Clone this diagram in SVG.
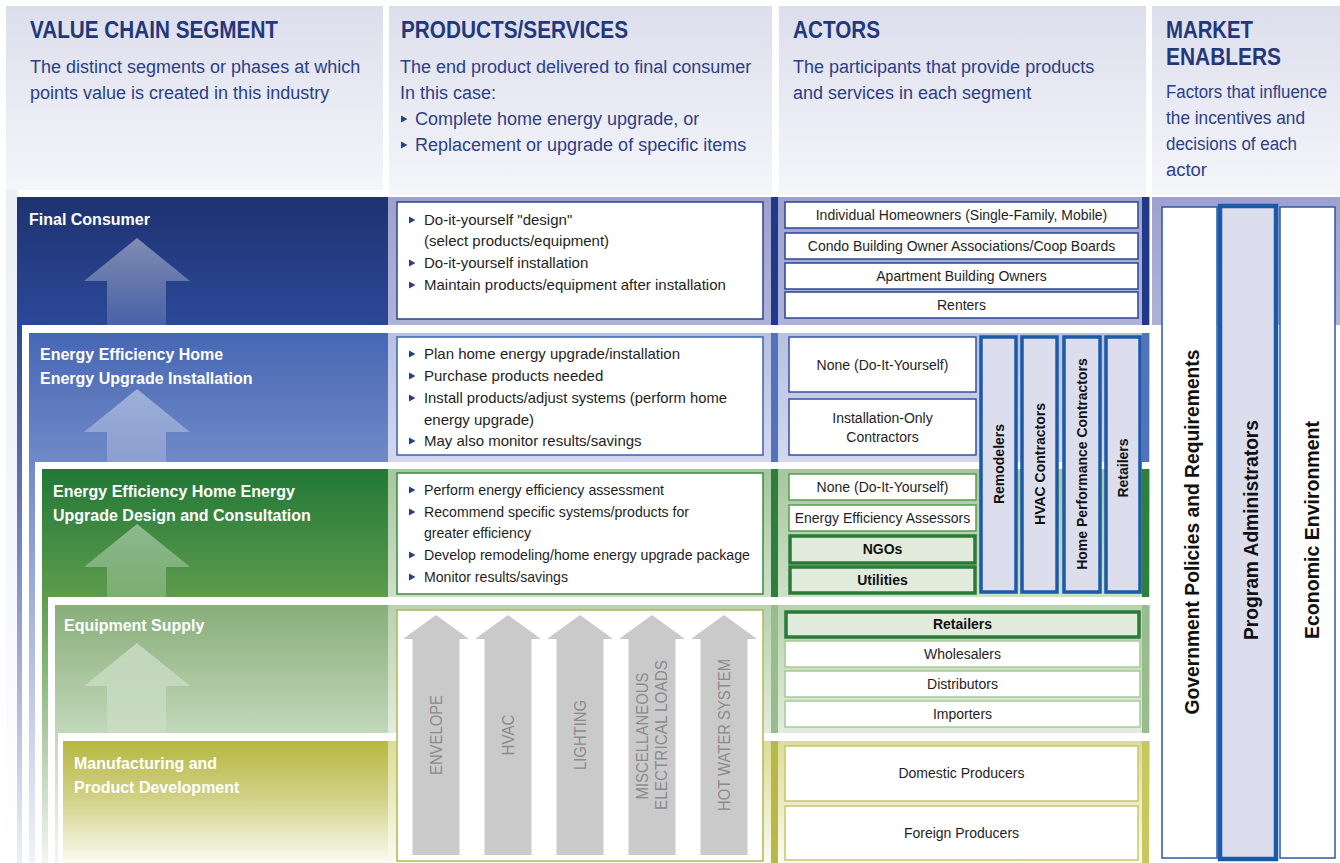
<svg xmlns="http://www.w3.org/2000/svg" width="1340" height="863" viewBox="0 0 1340 863">
<defs>
  <linearGradient id="hdr" x1="0" y1="0" x2="0" y2="1"><stop offset="0" stop-color="#dcdeec"/><stop offset="1" stop-color="#f5f6fa"/></linearGradient>
  <linearGradient id="edge" x1="0" y1="0" x2="0" y2="1"><stop offset="0" stop-color="#eceef6"/><stop offset="1" stop-color="#ffffff"/></linearGradient>
  <linearGradient id="L1" gradientUnits="userSpaceOnUse" x1="0" y1="197" x2="0" y2="863"><stop offset="0" stop-color="#1e3270"/><stop offset="0.19" stop-color="#2b4898"/><stop offset="0.45" stop-color="#6474bc"/><stop offset="1" stop-color="#eef0f8"/></linearGradient>
  <linearGradient id="L2" gradientUnits="userSpaceOnUse" x1="0" y1="333" x2="0" y2="863"><stop offset="0" stop-color="#4667b4"/><stop offset="0.24" stop-color="#7089c6"/><stop offset="0.55" stop-color="#aab6de"/><stop offset="1" stop-color="#f2f3fa"/></linearGradient>
  <linearGradient id="L3" gradientUnits="userSpaceOnUse" x1="0" y1="469" x2="0" y2="863"><stop offset="0" stop-color="#217836"/><stop offset="0.33" stop-color="#5f9c4e"/><stop offset="0.65" stop-color="#a8c8a0"/><stop offset="1" stop-color="#f2f6f0"/></linearGradient>
  <linearGradient id="L4" gradientUnits="userSpaceOnUse" x1="0" y1="605" x2="0" y2="863"><stop offset="0" stop-color="#88ae7a"/><stop offset="0.5" stop-color="#c2d8ba"/><stop offset="1" stop-color="#f2f6f0"/></linearGradient>
  <linearGradient id="L5" gradientUnits="userSpaceOnUse" x1="0" y1="741" x2="0" y2="863"><stop offset="0" stop-color="#b6b840"/><stop offset="0.45" stop-color="#d0d084"/><stop offset="1" stop-color="#fbfbf2"/></linearGradient>
  <linearGradient id="B1" x1="0" y1="0" x2="0" y2="1"><stop offset="0" stop-color="#9ea1cd"/><stop offset="1" stop-color="#b0b3d8"/></linearGradient>
  <linearGradient id="B2" x1="0" y1="0" x2="0" y2="1"><stop offset="0" stop-color="#b8c0e2"/><stop offset="1" stop-color="#d4d8ee"/></linearGradient>
  <linearGradient id="B3" x1="0" y1="0" x2="0" y2="1"><stop offset="0" stop-color="#a6c69e"/><stop offset="1" stop-color="#cfe0c8"/></linearGradient>
  <linearGradient id="B4" x1="0" y1="0" x2="0" y2="1"><stop offset="0" stop-color="#b8d2ae"/><stop offset="1" stop-color="#e2ecde"/></linearGradient>
  <linearGradient id="B5" x1="0" y1="0" x2="0" y2="1"><stop offset="0" stop-color="#dcdc98"/><stop offset="1" stop-color="#fbfbf2"/></linearGradient>
  <linearGradient id="arw" x1="0" y1="0" x2="0" y2="1"><stop offset="0" stop-color="#ffffff" stop-opacity="0.42"/><stop offset="1" stop-color="#ffffff" stop-opacity="0.12"/></linearGradient>
  <path id="bigArrow" d="M0,0 L53,43 L29,43 L29,95 L-30,95 L-30,43 L-53,43 Z"/>
  <path id="sysArrow" d="M0,0 L33,24 L23.5,24 L23.5,240 L-23.5,240 L-23.5,24 L-33,24 Z"/>
  <path id="bul" d="M0,-3.5 L6.5,0 L0,3.5 Z"/>
</defs>
<style>
  text { font-family: "Liberation Sans", Arial, sans-serif; }
  .hT { font-size: 24px; font-weight: bold; fill: #23387a; }
  .hS { font-size: 18px; fill: #2c3f86; }
  .rowL { font-size: 16px; font-weight: bold; fill: #ffffff; }
  .li { font-size: 15px; fill: #1e1e1e; }
  .act { font-size: 14px; fill: #1e1e1e; text-anchor: middle; }
  .actB { font-size: 14px; font-weight: bold; fill: #111; text-anchor: middle; }
  .vl { font-size: 14px; font-weight: bold; fill: #111; text-anchor: middle; }
  .mk { font-size: 21px; font-weight: bold; fill: #111; text-anchor: middle; }
  .sys { font-size: 17px; fill: #8a8a8a; text-anchor: middle; }
  .pb1 { fill: #fff; stroke: #2a4590; stroke-width: 1.5; }
  .pb2 { fill: #fff; stroke: #3a62b0; stroke-width: 1.5; }
  .pb3 { fill: #fff; stroke: #3a8a3e; stroke-width: 1.5; }
  .pb4 { fill: #fff; stroke: #b0b850; stroke-width: 1.5; }
  .ab1 { fill: #fff; stroke: #2a4590; stroke-width: 1.5; }
  .ab2 { fill: #fff; stroke: #34509c; stroke-width: 1.5; }
  .ab3 { fill: #fff; stroke: #5a9a50; stroke-width: 1.5; }
  .ab3t { fill: #e2ecdc; stroke: #2a7a38; stroke-width: 3.5; }
  .ab4 { fill: #fff; stroke: #a8c898; stroke-width: 1.5; }
  .ab5 { fill: #fff; stroke: #c8c860; stroke-width: 1.5; }
  .vb { fill: #dcdeee; stroke: #1a5aa8; stroke-width: 3.5; }
  .mb { fill: #fff; stroke: #2a5aa8; stroke-width: 1.5; }
  .mbt { fill: #dcdeee; stroke: #1a5aa8; stroke-width: 4.5; }
  .bul { fill: #2a3f80; }
</style>

<rect x="0" y="0" width="1340" height="863" fill="#ffffff"/>

<!-- Header panels -->
<g id="header-value-chain">
  <rect x="6" y="6" width="377" height="184" fill="url(#hdr)"/>
  <rect x="6" y="190" width="11" height="673" fill="url(#edge)"/>
  <text class="hT" x="30" y="38" textLength="248" lengthAdjust="spacingAndGlyphs">VALUE CHAIN SEGMENT</text>
  <text class="hS" x="30" y="73">The distinct segments or phases at which</text>
  <text class="hS" x="30" y="99">points value is created in this industry</text>
</g>
<g id="header-products">
  <rect x="389" y="6" width="383" height="189" fill="url(#hdr)"/>
  <text class="hT" x="401" y="38" textLength="227" lengthAdjust="spacingAndGlyphs">PRODUCTS/SERVICES</text>
  <text class="hS" x="400" y="73">The end product delivered to final consumer</text>
  <text class="hS" x="400" y="99">In this case:</text>
  <use href="#bul" x="401" y="119" class="bul"/>
  <text class="hS" x="415" y="125">Complete home energy upgrade, or</text>
  <use href="#bul" x="401" y="145" class="bul"/>
  <text class="hS" x="415" y="151">Replacement or upgrade of specific items</text>
</g>
<g id="header-actors">
  <rect x="779" y="6" width="367" height="189" fill="url(#hdr)"/>
  <text class="hT" x="793" y="38" textLength="87" lengthAdjust="spacingAndGlyphs">ACTORS</text>
  <text class="hS" x="793" y="73">The participants that provide products</text>
  <text class="hS" x="793" y="99">and services in each segment</text>
</g>
<g id="header-market-enablers">
  <rect x="1152" y="6" width="188" height="189" fill="url(#hdr)"/>
  <text class="hT" x="1166" y="38" textLength="87" lengthAdjust="spacingAndGlyphs">MARKET</text>
  <text class="hT" x="1166" y="65" textLength="115" lengthAdjust="spacingAndGlyphs">ENABLERS</text>
  <text class="hS" x="1166" y="98" textLength="161" lengthAdjust="spacingAndGlyphs">Factors that influence</text>
  <text class="hS" x="1166" y="124" textLength="139" lengthAdjust="spacingAndGlyphs">the incentives and</text>
  <text class="hS" x="1166" y="150" textLength="131" lengthAdjust="spacingAndGlyphs">decisions of each</text>
  <text class="hS" x="1166" y="176" textLength="41" lengthAdjust="spacingAndGlyphs">actor</text>
</g>

<!-- Value chain segments (nested) -->
<g id="seg-final-consumer">
  <rect x="17" y="197" width="371" height="666" fill="url(#L1)"/>
  <use href="#bigArrow" x="137" y="238" fill="url(#arw)"/>
  <text class="rowL" x="29" y="225">Final Consumer</text>
</g>
<g id="seg-installation">
  <rect x="22" y="325" width="366" height="538" fill="#ffffff"/>
  <rect x="29" y="333" width="359" height="530" fill="url(#L2)"/>
  <use href="#bigArrow" x="137" y="389" fill="url(#arw)"/>
  <text class="rowL" x="40" y="360">Energy Efficiency Home</text>
  <text class="rowL" x="40" y="384">Energy Upgrade Installation</text>
</g>
<g id="seg-design">
  <rect x="35" y="462" width="353" height="401" fill="#ffffff"/>
  <rect x="42" y="469" width="346" height="394" fill="url(#L3)"/>
  <use href="#bigArrow" x="137" y="524" fill="url(#arw)"/>
  <text class="rowL" x="53" y="497">Energy Efficiency Home Energy</text>
  <text class="rowL" x="53" y="521">Upgrade Design and Consultation</text>
</g>
<g id="seg-equipment">
  <rect x="48" y="597" width="340" height="266" fill="#ffffff"/>
  <rect x="55" y="605" width="333" height="258" fill="url(#L4)"/>
  <use href="#bigArrow" x="137" y="643" fill="url(#arw)"/>
  <text class="rowL" x="64" y="631">Equipment Supply</text>
</g>
<g id="seg-manufacturing">
  <rect x="58" y="733" width="330" height="130" fill="#ffffff"/>
  <rect x="63" y="741" width="325" height="122" fill="url(#L5)"/>
  <text class="rowL" x="74" y="769">Manufacturing and</text>
  <text class="rowL" x="74" y="793">Product Development</text>
</g>

<!-- Products / services column -->
<g id="prod-final-consumer">
  <rect x="388" y="197" width="382" height="128" fill="url(#B1)"/>
  <rect class="pb1" x="397" y="202" width="366" height="117"/>
  <use href="#bul" x="409" y="220" class="bul"/>
  <text class="li" x="424" y="225">Do-it-yourself "design"</text>
  <text class="li" x="424" y="246">(select products/equipment)</text>
  <use href="#bul" x="409" y="263" class="bul"/>
  <text class="li" x="424" y="268">Do-it-yourself installation</text>
  <use href="#bul" x="409" y="285" class="bul"/>
  <text class="li" x="424" y="290">Maintain products/equipment after installation</text>
</g>
<g id="prod-installation">
  <rect x="388" y="333" width="382" height="129" fill="url(#B2)"/>
  <rect class="pb2" x="397" y="337" width="366" height="118"/>
  <use href="#bul" x="409" y="354" class="bul"/>
  <text class="li" x="424" y="359">Plan home energy upgrade/installation</text>
  <use href="#bul" x="409" y="376" class="bul"/>
  <text class="li" x="424" y="381">Purchase products needed</text>
  <use href="#bul" x="409" y="398" class="bul"/>
  <text class="li" x="424" y="403" textLength="303" lengthAdjust="spacingAndGlyphs">Install products/adjust systems (perform home</text>
  <text class="li" x="424" y="425">energy upgrade)</text>
  <use href="#bul" x="409" y="441" class="bul"/>
  <text class="li" x="424" y="446">May also monitor results/savings</text>
</g>
<g id="prod-design">
  <rect x="388" y="469" width="382" height="128" fill="url(#B3)"/>
  <rect class="pb3" x="397" y="473" width="366" height="121"/>
  <use href="#bul" x="409" y="490" class="bul"/>
  <text class="li" x="424" y="495" textLength="240" lengthAdjust="spacingAndGlyphs">Perform energy efficiency assessment</text>
  <use href="#bul" x="409" y="512" class="bul"/>
  <text class="li" x="424" y="517" textLength="265" lengthAdjust="spacingAndGlyphs">Recommend specific systems/products for</text>
  <text class="li" x="424" y="538" textLength="107" lengthAdjust="spacingAndGlyphs">greater efficiency</text>
  <use href="#bul" x="409" y="555" class="bul"/>
  <text class="li" x="424" y="560" textLength="326" lengthAdjust="spacingAndGlyphs">Develop remodeling/home energy upgrade package</text>
  <use href="#bul" x="409" y="577" class="bul"/>
  <text class="li" x="424" y="582" textLength="144" lengthAdjust="spacingAndGlyphs">Monitor results/savings</text>
</g>
<g id="prod-equipment-systems">
  <rect x="388" y="605" width="382" height="128" fill="url(#B4)"/>
  <rect x="388" y="741" width="382" height="122" fill="url(#B5)"/>
  <rect class="pb4" x="397" y="610" width="366" height="251"/>
  <use href="#sysArrow" x="436" y="615" fill="#cacaca"/>
  <use href="#sysArrow" x="508" y="615" fill="#cacaca"/>
  <use href="#sysArrow" x="580" y="615" fill="#cacaca"/>
  <use href="#sysArrow" x="652" y="615" fill="#cacaca"/>
  <use href="#sysArrow" x="724" y="615" fill="#cacaca"/>
  <text class="sys" transform="translate(442,735) rotate(-90)" textLength="80" lengthAdjust="spacingAndGlyphs">ENVELOPE</text>
  <text class="sys" transform="translate(514,735) rotate(-90)" textLength="41" lengthAdjust="spacingAndGlyphs">HVAC</text>
  <text class="sys" transform="translate(586,735) rotate(-90)" textLength="70" lengthAdjust="spacingAndGlyphs">LIGHTING</text>
  <text class="sys" transform="translate(648,736) rotate(-90)" textLength="127" lengthAdjust="spacingAndGlyphs">MISCELLANEOUS</text>
  <text class="sys" transform="translate(667,735) rotate(-90)" textLength="150" lengthAdjust="spacingAndGlyphs">ELECTRICAL LOADS</text>
  <text class="sys" transform="translate(730,735) rotate(-90)" textLength="152" lengthAdjust="spacingAndGlyphs">HOT WATER SYSTEM</text>
</g>

<!-- Actors column -->
<g id="actors-final-consumer">
  <rect x="770" y="197" width="380" height="128" fill="url(#B1)"/>
  <rect x="771" y="197" width="7" height="128" fill="#22398a"/>
  <rect x="1142" y="197" width="7" height="128" fill="#22398a"/>
  <rect class="ab1" x="785" y="202" width="353" height="26"/>
  <text class="act" x="961.5" y="220">Individual Homeowners (Single-Family, Mobile)</text>
  <rect class="ab1" x="785" y="233" width="353" height="26"/>
  <text class="act" x="961.5" y="251">Condo Building Owner Associations/Coop Boards</text>
  <rect class="ab1" x="785" y="263" width="353" height="26"/>
  <text class="act" x="961.5" y="281">Apartment Building Owners</text>
  <rect class="ab1" x="785" y="292" width="353" height="26"/>
  <text class="act" x="961.5" y="310">Renters</text>
</g>
<g id="actors-installation">
  <rect x="770" y="333" width="380" height="129" fill="url(#B2)"/>
  <rect x="771" y="333" width="7" height="129" fill="#5272bc"/>
  <rect x="1142" y="333" width="7" height="129" fill="#5272bc"/>
  <rect class="ab2" x="789" y="337" width="187" height="55"/>
  <text class="act" x="882.5" y="369.5">None (Do-It-Yourself)</text>
  <rect class="ab2" x="789" y="399" width="187" height="56"/>
  <text class="act" x="882.5" y="423">Installation-Only</text>
  <text class="act" x="882.5" y="442">Contractors</text>
</g>
<g id="actors-design">
  <rect x="770" y="469" width="380" height="128" fill="url(#B3)"/>
  <rect x="771" y="469" width="7" height="128" fill="#2e7f3c"/>
  <rect x="1142" y="469" width="7" height="128" fill="#2e7f3c"/>
  <rect class="ab3" x="789" y="474" width="187" height="26"/>
  <text class="act" x="882.5" y="492">None (Do-It-Yourself)</text>
  <rect class="ab3" x="789" y="505" width="187" height="26"/>
  <text class="act" x="882.5" y="523">Energy Efficiency Assessors</text>
  <rect class="ab3t" x="790" y="536" width="185" height="27"/>
  <text class="actB" x="882.5" y="554">NGOs</text>
  <rect class="ab3t" x="790" y="567" width="185" height="26"/>
  <text class="actB" x="882.5" y="585">Utilities</text>
</g>
<g id="actors-contractors">
  <rect class="vb" x="981" y="337" width="35" height="255"/>
  <text class="vl" transform="translate(1003.5,464) rotate(-90)">Remodelers</text>
  <rect class="vb" x="1022" y="337" width="35" height="255"/>
  <text class="vl" transform="translate(1044.5,464) rotate(-90)">HVAC Contractors</text>
  <rect class="vb" x="1064" y="337" width="36" height="255"/>
  <text class="vl" transform="translate(1087,464) rotate(-90)">Home Performance Contractors</text>
  <rect class="vb" x="1106" y="337" width="34" height="255"/>
  <text class="vl" transform="translate(1128,468) rotate(-90)">Retailers</text>
</g>
<g id="actors-equipment">
  <rect x="770" y="605" width="380" height="128" fill="url(#B4)"/>
  <rect x="771" y="605" width="7" height="128" fill="#98bc8c"/>
  <rect x="1142" y="605" width="7" height="128" fill="#98bc8c"/>
  <rect class="ab3t" x="786" y="612" width="353" height="25"/>
  <text class="actB" x="962.5" y="629">Retailers</text>
  <rect class="ab4" x="785" y="641" width="355" height="26"/>
  <text class="act" x="962.5" y="659">Wholesalers</text>
  <rect class="ab4" x="785" y="671" width="355" height="26"/>
  <text class="act" x="962.5" y="689">Distributors</text>
  <rect class="ab4" x="785" y="701" width="355" height="26"/>
  <text class="act" x="962.5" y="719">Importers</text>
</g>
<g id="actors-manufacturing">
  <rect x="770" y="741" width="380" height="122" fill="url(#B5)"/>
  <rect x="771" y="741" width="7" height="122" fill="#b8b848"/>
  <rect x="1142" y="741" width="7" height="122" fill="#c8c860"/>
  <rect class="ab5" x="785" y="746" width="353" height="55"/>
  <text class="act" x="961.5" y="778">Domestic Producers</text>
  <rect class="ab5" x="785" y="806" width="353" height="54"/>
  <text class="act" x="961.5" y="838">Foreign Producers</text>
</g>

<!-- Market enablers -->
<g id="market-enablers">
  <rect x="1152" y="197" width="188" height="128" fill="url(#B1)"/>
  <g id="enabler-government">
    <rect class="mb" x="1162" y="207" width="55" height="651"/>
    <text class="mk" transform="translate(1199,532) rotate(-90)" textLength="365" lengthAdjust="spacingAndGlyphs">Government Policies and Requirements</text>
  </g>
  <g id="enabler-program-admin">
    <rect class="mbt" x="1220" y="206" width="56" height="653"/>
    <text class="mk" transform="translate(1257.5,530) rotate(-90)" textLength="220" lengthAdjust="spacingAndGlyphs">Program Administrators</text>
  </g>
  <g id="enabler-economic">
    <rect class="mb" x="1280" y="207" width="55" height="651"/>
    <text class="mk" transform="translate(1318.5,530) rotate(-90)" textLength="218" lengthAdjust="spacingAndGlyphs">Economic Environment</text>
  </g>
</g>
<g id="connectors"/>
</svg>
